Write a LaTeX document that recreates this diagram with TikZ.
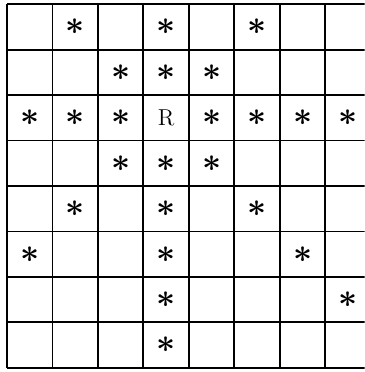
\documentclass[tikz,border=0pt]{standalone}
\usepackage{tikz}
\usetikzlibrary{positioning}

\tikzset{
  hit/.style={inner sep=0pt, font=\huge\boldmath},
  piece/.style={inner sep=0pt, font=\Large}
}

\begin{document}
\begin{tikzpicture}
  \useasboundingbox (0,0) rectangle (8.02,8.18);
  \clip (0,0) rectangle (8.02,8.18);
  \begin{scope}[shift={(0.154,0.09)}]
    \draw[line width=1.2pt] (0,0) grid (8,8);
    \node[piece] (R) at (3.5,5.5) {R};
    % cells reached from R, given as row/column (row 1 at the top)
    \foreach \r/\c in {1/2,1/4,1/6,2/3,2/4,2/5,3/1,3/2,3/3,3/5,3/6,3/7,3/8,
                       4/3,4/4,4/5,5/2,5/4,5/6,6/1,6/4,6/7,7/4,7/8,8/4}
      \node[hit] (s-\r-\c) at (\c-0.5,8.5-\r) {$\ast$};
  \end{scope}
\end{tikzpicture}
\end{document}
